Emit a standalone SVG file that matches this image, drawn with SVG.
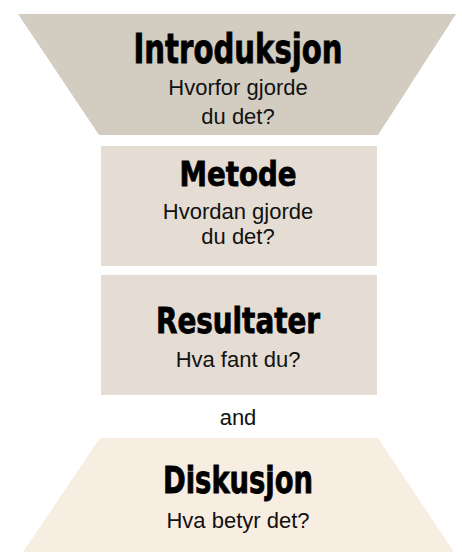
<svg xmlns="http://www.w3.org/2000/svg" width="462" height="552" viewBox="0 0 462 552">
<style>
.title{font-family:"DejaVu Sans Condensed","DejaVu Sans",sans-serif;font-stretch:condensed;font-weight:bold;fill:#000;stroke:#000;stroke-width:0.8;text-anchor:middle}
.sub{font-family:"Liberation Sans",Arial,sans-serif;font-size:22px;fill:#111;text-anchor:middle}
</style>
<rect width="462" height="552" fill="#fff"/>
<g id="introduksjon">
<polygon points="18,14 456,14 378,135 99,135" fill="#d3cdc1"/>
<text class="title" x="238" y="63" font-size="40" textLength="209" lengthAdjust="spacingAndGlyphs">Introduksjon</text>
<text class="sub" x="238" y="95">Hvorfor gjorde</text>
<text class="sub" x="238" y="124">du det?</text>
</g>
<g id="metode">
<rect x="101" y="146" width="276" height="120" fill="#e5ddd3"/>
<text class="title" x="238" y="186" font-size="34" textLength="117" lengthAdjust="spacingAndGlyphs">Metode</text>
<text class="sub" x="238" y="219">Hvordan gjorde</text>
<text class="sub" x="238" y="244">du det?</text>
</g>
<g id="resultater">
<rect x="101" y="275" width="276" height="120" fill="#e5ddd3"/>
<text class="title" x="238" y="333" font-size="36" textLength="164" lengthAdjust="spacingAndGlyphs">Resultater</text>
<text class="sub" x="238" y="367">Hva fant du?</text>
</g>
<g id="connectors">
<text class="sub" x="238" y="425">and</text>
</g>
<g id="diskusjon">
<polygon points="100,438 378,438 454,552 23,552" fill="#f8ede1"/>
<text class="title" x="238" y="493" font-size="38" textLength="150" lengthAdjust="spacingAndGlyphs">Diskusjon</text>
<text class="sub" x="238" y="528">Hva betyr det?</text>
</g>
</svg>
